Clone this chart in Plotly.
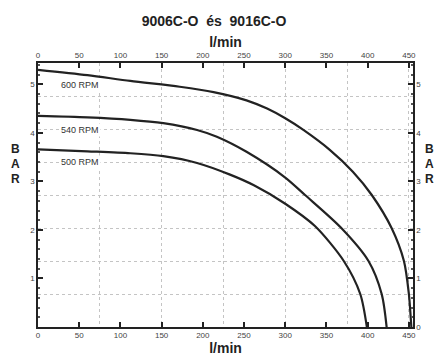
import plotly.graph_objects as go

# --- data ---
flow_600 = [0, 60, 112, 172, 213, 253, 278, 300, 322, 354, 382, 405, 429, 444, 450, 452, 453]
bar_600 = [5.30, 5.19, 5.07, 4.95, 4.84, 4.67, 4.50, 4.30, 4.06, 3.65, 3.20, 2.72, 2.04, 1.36, 0.68, 0.25, 0.0]

flow_540 = [0, 60, 112, 152, 193, 217, 253, 300, 324, 368, 401, 417, 423]
bar_540 = [4.35, 4.32, 4.27, 4.20, 4.06, 3.92, 3.61, 3.08, 2.72, 2.04, 1.36, 0.68, 0.0]

flow_500 = [0, 60, 112, 152, 193, 233, 262, 300, 336, 371, 391, 399]
bar_500 = [3.66, 3.62, 3.58, 3.52, 3.38, 3.14, 2.92, 2.54, 2.08, 1.36, 0.68, 0.0]

series_names = ["600 RPM", "540 RPM", "500 RPM"]
label_pos_x = [51, 51, 51]
label_pos_y = [4.99, 4.06, 3.41]

x_ticks = [0, 50, 100, 150, 200, 250, 300, 350, 400, 450]
y_ticks_left = [1, 2, 3, 4, 5]
y_ticks_right = [0, 1, 2, 3, 4, 5]

X_RANGE = [0, 455]
Y_RANGE = [0, 5.44]
title_text = "9006C-O&nbsp;&nbsp;és&nbsp;&nbsp;9016C-O"
x_title = "l/min"

FONT = "Liberation Sans, Arial, sans-serif"
tickfont = dict(family=FONT, size=8, color="#444")

fig = go.Figure()

for fx, by in [(flow_600, bar_600), (flow_540, bar_540), (flow_500, bar_500)]:
    fig.add_trace(go.Scatter(x=fx, y=by, mode="lines",
                             line=dict(color="#222", width=2.2, shape="spline", smoothing=0.8),
                             hoverinfo="skip", showlegend=False))

# invisible traces to anchor secondary axes
fig.add_trace(go.Scatter(x=[0], y=[0], xaxis="x2", yaxis="y2", mode="markers",
                         marker=dict(opacity=0), showlegend=False, hoverinfo="skip"))
fig.add_trace(go.Scatter(x=[0], y=[0], xaxis="x3", yaxis="y3", mode="markers",
                         marker=dict(opacity=0), showlegend=False, hoverinfo="skip"))

axis_common = dict(showline=True, linecolor="#222", linewidth=1.5, mirror=False,
                   zeroline=False, showgrid=False, tickfont=tickfont, automargin=False)

fig.update_layout(
    width=436, height=357,
    margin=dict(l=38, r=23, t=63, b=30, autoexpand=False),
    paper_bgcolor="white", plot_bgcolor="white",
    title=dict(text="<b>" + title_text + "</b>", x=214 / 436, xanchor="center",
               y=1 - 21 / 357, yanchor="middle",
               font=dict(family=FONT, size=14, color="#222")),
    xaxis=dict(range=X_RANGE, tickvals=x_ticks, ticks="inside", ticklen=5, tickwidth=1.5,
               tickcolor="#222", side="bottom",
               title=dict(text="<b>" + x_title + "</b>", standoff=0,
                          font=dict(family=FONT, size=14, color="#222")),
               **axis_common),
    yaxis=dict(range=Y_RANGE, tickvals=y_ticks_left, ticks="inside", ticklen=5, tickwidth=1.5,
               tickcolor="#222",
               minor=dict(dtick=0.2, tick0=0, ticks="inside", ticklen=2, tickcolor="#555"),
               **axis_common),
    xaxis2=dict(range=X_RANGE, tickvals=x_ticks, ticks="inside", ticklen=5, tickwidth=1.5,
                tickcolor="#222", side="top", overlaying="x", anchor="y",
                title=dict(text="<b>" + x_title + "</b>", standoff=0,
                           font=dict(family=FONT, size=14, color="#222")),
                **axis_common),
    yaxis2=dict(range=Y_RANGE, tickvals=y_ticks_right, ticks="inside", ticklen=5, tickwidth=1.5,
                tickcolor="#222", side="right", overlaying="y", anchor="x",
                minor=dict(dtick=0.2, tick0=0, ticks="inside", ticklen=2, tickcolor="#555"),
                **axis_common),
    xaxis3=dict(range=X_RANGE, dtick=75, tick0=0, showgrid=True, gridcolor="#c4c4c4",
                griddash="dot", gridwidth=1, showticklabels=False, ticks="",
                overlaying="x", zeroline=False, showline=False),
    yaxis3=dict(range=Y_RANGE, dtick=0.68, tick0=0, showgrid=True, gridcolor="#c4c4c4",
                griddash="dot", gridwidth=1, showticklabels=False, ticks="",
                overlaying="y", anchor="x3", zeroline=False, showline=False),
)

for name, lx, ly in zip(series_names, label_pos_x, label_pos_y):
    fig.add_annotation(x=lx, y=ly, xref="x", yref="y", text=name, showarrow=False,
                       font=dict(family=FONT, size=9, color="#333"),
                       bgcolor="white", xanchor="center", yanchor="middle")

# "B A R" axis titles
for i, ch in enumerate(["B", "A", "R"]):
    yy = 1 - (149 + i * 15 - 63) / (327 - 63)
    fig.add_annotation(x=-23 / 375, y=yy, xref="paper", yref="paper", text="<b>" + ch + "</b>",
                       showarrow=False, font=dict(family=FONT, size=12, color="#222"),
                       xanchor="center", yanchor="middle")
    fig.add_annotation(x=(430 - 38) / 375, y=yy, xref="paper", yref="paper", text="<b>" + ch + "</b>",
                       showarrow=False, font=dict(family=FONT, size=12, color="#222"),
                       xanchor="center", yanchor="middle")

fig.write_html("out.html", config={"displayModeBar": False},
               post_script="document.body.style.margin='0';document.body.style.overflow='hidden';")
